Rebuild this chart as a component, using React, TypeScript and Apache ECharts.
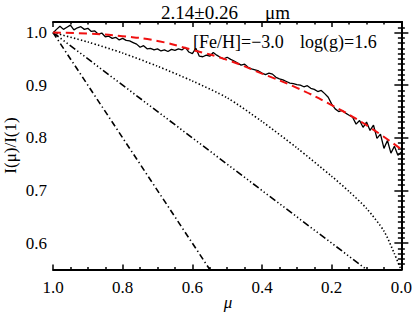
import React, { useEffect, useRef } from "react";
import * as echarts from "echarts";

// observed limb profile (mu, I(mu)/I(1))
const muObs = [
  1.0, 0.99, 0.98, 0.97, 0.96, 0.95, 0.94, 0.93, 0.92, 0.91, 0.9, 0.89, 0.88, 0.87, 0.86, 0.85, 0.84, 0.83, 0.82, 0.81,
  0.8, 0.79, 0.78, 0.77, 0.76, 0.75, 0.74, 0.73, 0.72, 0.71, 0.7, 0.69, 0.68, 0.67, 0.66, 0.65, 0.64, 0.63, 0.62, 0.61,
  0.6, 0.59, 0.58, 0.57, 0.56, 0.55, 0.54, 0.53, 0.52, 0.51, 0.5, 0.49, 0.48, 0.47, 0.46, 0.45, 0.44, 0.43, 0.42, 0.41,
  0.4, 0.39, 0.38, 0.37, 0.36, 0.35, 0.34, 0.33, 0.32, 0.31, 0.3, 0.29, 0.28, 0.27, 0.26, 0.25, 0.24, 0.23, 0.22, 0.21,
  0.2, 0.19, 0.18, 0.17, 0.16, 0.15, 0.14, 0.13, 0.12, 0.11, 0.1, 0.09, 0.08, 0.07, 0.06, 0.05, 0.04, 0.03, 0.02, 0.01, 0.0,
];
const iObs = [
  0.999, 1.006, 1.012, 1.006, 1.01, 1.014, 1.005, 1.009, 1.011, 1.006, 1.008, 1.002, 1.003, 0.997, 0.999, 0.992, 0.993, 0.989, 0.991, 0.986,
  0.989, 0.985, 0.984, 0.981, 0.978, 0.972, 0.975, 0.969, 0.97, 0.967, 0.969, 0.965, 0.967, 0.964, 0.968, 0.966, 0.969, 0.967, 0.972, 0.963,
  0.96, 0.97, 0.955, 0.954, 0.957, 0.955, 0.962, 0.957, 0.953, 0.95, 0.953, 0.949, 0.946, 0.942, 0.938, 0.94, 0.934, 0.931, 0.929, 0.927,
  0.923, 0.92, 0.923, 0.921, 0.915, 0.912, 0.91, 0.907, 0.904, 0.903, 0.901, 0.9, 0.897, 0.899, 0.894, 0.892, 0.888, 0.89, 0.884, 0.877,
  0.864, 0.855, 0.85, 0.852, 0.847, 0.843, 0.839, 0.826, 0.833, 0.82, 0.83, 0.814, 0.824, 0.799, 0.807, 0.78, 0.795, 0.771, 0.784, 0.767, 0.773,
];

// red dashed fit
const muFit = [1.0, 0.9, 0.8, 0.7, 0.6, 0.5, 0.4, 0.3, 0.2, 0.1, 0.0];
const iFit = [1.0, 0.998, 0.993, 0.984, 0.967, 0.948, 0.922, 0.895, 0.862, 0.824, 0.778];

// dotted model
const muDot = [1.0, 0.9, 0.8, 0.7, 0.6, 0.5, 0.4, 0.3, 0.2, 0.15, 0.1, 0.05, 0.02, 0.0];
const iDot = [1.0, 0.982, 0.961, 0.936, 0.908, 0.876, 0.831, 0.781, 0.727, 0.698, 0.666, 0.623, 0.58, 0.548];

// dash-dot-dot-dot model
const muDdd = [1.0, 0.8, 0.6, 0.4, 0.2, 0.0];
const iDdd = [1.0, 0.9, 0.8, 0.7, 0.6, 0.5];

// dash-dot model
const muDd = [1.0, 0.8, 0.6, 0.4];
const iDd = [1.0, 0.8, 0.6, 0.4];

const yMajor = [0.6, 0.7, 0.8, 0.9, 1.0];
const yMinor: number[] = [];
for (let k = 56; k <= 101; k++) {
  if (k % 10 !== 0) yMinor.push(k / 100);
}

const FONT = "'Liberation Serif', 'Times New Roman', serif";

export default function App() {
  const ref = useRef<HTMLDivElement>(null);
  useEffect(() => {
    if (!ref.current) return;
    const chart = echarts.init(ref.current, null, { renderer: "svg" });
    const pair = (xs: number[], ys: number[]) => xs.map((x, i) => [x, ys[i]]);
    const axisLine = { show: true, lineStyle: { color: "#000", width: 2 } };
    const yBase = {
      type: "value",
      min: 0.55,
      max: 1.02,
      splitLine: { show: false },
    };
    chart.setOption({
      animation: false,
      backgroundColor: "#fff",
      grid: { left: 53, right: 12, top: 22, bottom: 43.5 },
      xAxis: [
        {
          type: "value",
          min: 0,
          max: 1,
          interval: 0.2,
          inverse: true,
          position: "bottom",
          axisLine,
          axisTick: { show: true, inside: true, length: 5, lineStyle: { color: "#000", width: 1.5 } },
          minorTick: { show: true, splitNumber: 4, length: 2.5, lineStyle: { color: "#000", width: 1.5 } },
          splitLine: { show: false },
          axisLabel: {
            color: "#000",
            fontFamily: FONT,
            fontSize: 17,
            margin: 9,
            formatter: (v: number) => v.toFixed(1),
          },
        },
        {
          type: "value",
          min: 0,
          max: 1,
          interval: 0.2,
          inverse: true,
          position: "top",
          axisLine,
          axisTick: { show: true, inside: true, length: 5, lineStyle: { color: "#000", width: 1.5 } },
          minorTick: { show: true, splitNumber: 4, length: 2.5, lineStyle: { color: "#000", width: 1.5 } },
          splitLine: { show: false },
          axisLabel: { show: false },
        },
      ],
      yAxis: [
        {
          ...yBase,
          position: "left",
          axisLine,
          axisTick: { show: true, inside: true, length: 7, customValues: yMajor, lineStyle: { color: "#000", width: 1.5 } },
          axisLabel: {
            color: "#000",
            fontFamily: FONT,
            fontSize: 17,
            margin: 6,
            customValues: yMajor,
            formatter: (v: number) => v.toFixed(1),
          },
        },
        {
          ...yBase,
          position: "left",
          axisLine: { show: false },
          axisTick: { show: true, inside: true, length: 3.5, customValues: yMinor, lineStyle: { color: "#000", width: 1.5 } },
          axisLabel: { show: false },
        },
        {
          ...yBase,
          position: "right",
          axisLine,
          axisTick: { show: true, inside: true, length: 7, customValues: yMajor, lineStyle: { color: "#000", width: 1.5 } },
          axisLabel: { show: false },
        },
        {
          ...yBase,
          position: "right",
          axisLine: { show: false },
          axisTick: { show: true, inside: true, length: 3.5, customValues: yMinor, lineStyle: { color: "#000", width: 1.5 } },
          axisLabel: { show: false },
        },
      ],
      series: [
        {
          name: "dash-dot",
          type: "line",
          data: pair(muDd, iDd),
          showSymbol: false,
          clip: true,
          lineStyle: { color: "#000", width: 1.6, type: [6, 3, 1.3, 3] },
        },
        {
          name: "dash-dot-dot-dot",
          type: "line",
          data: pair(muDdd, iDdd),
          showSymbol: false,
          clip: true,
          lineStyle: { color: "#000", width: 1.6, type: [7, 2.5, 1.3, 2.5, 1.3, 2.5, 1.3, 2.5] },
        },
        {
          name: "dotted",
          type: "line",
          data: pair(muDot, iDot),
          smooth: 0.25,
          showSymbol: false,
          clip: true,
          lineStyle: { color: "#000", width: 1.6, type: [1.4, 2.2] },
        },
        {
          name: "observed",
          type: "line",
          data: pair(muObs, iObs),
          showSymbol: false,
          clip: true,
          lineStyle: { color: "#000", width: 1.3 },
        },
        {
          name: "fit",
          type: "line",
          data: pair(muFit, iFit),
          smooth: true,
          showSymbol: false,
          clip: true,
          lineStyle: { color: "#f01010", width: 2, type: [8, 5] },
        },
      ],
      graphic: [
        {
          type: "text",
          x: 161,
          y: 12,
          style: { text: "2.14±0.26", fontFamily: FONT, fontSize: 19, fill: "#000", align: "left", verticalAlign: "middle" },
        },
        {
          type: "text",
          x: 265,
          y: 12,
          style: { text: "μm", fontFamily: FONT, fontSize: 19, fill: "#000", align: "left", verticalAlign: "middle" },
        },
        {
          type: "text",
          x: 193,
          y: 42,
          style: { text: "[Fe/H]=−3.0", fontFamily: FONT, fontSize: 18, fill: "#000", align: "left", verticalAlign: "middle" },
        },
        {
          type: "text",
          x: 300,
          y: 42,
          style: { text: "log(g)=1.6", fontFamily: FONT, fontSize: 18, fill: "#000", align: "left", verticalAlign: "middle" },
        },
        {
          type: "text",
          x: 10,
          y: 145.5,
          rotation: Math.PI / 2,
          style: { text: "I(μ)/I(1)", fontFamily: FONT, fontSize: 17, fill: "#000", align: "center", verticalAlign: "middle" },
        },
        {
          type: "text",
          x: 228,
          y: 302,
          style: { text: "μ", fontFamily: FONT, fontStyle: "italic", fontSize: 17, fill: "#000", align: "center", verticalAlign: "middle" },
        },
      ],
    });
    return () => chart.dispose();
  }, []);
  return (
    <div
      ref={ref}
      style={{ position: "fixed", left: 0, top: 0, width: 415, height: 313, background: "#fff" }}
    />
  );
}
